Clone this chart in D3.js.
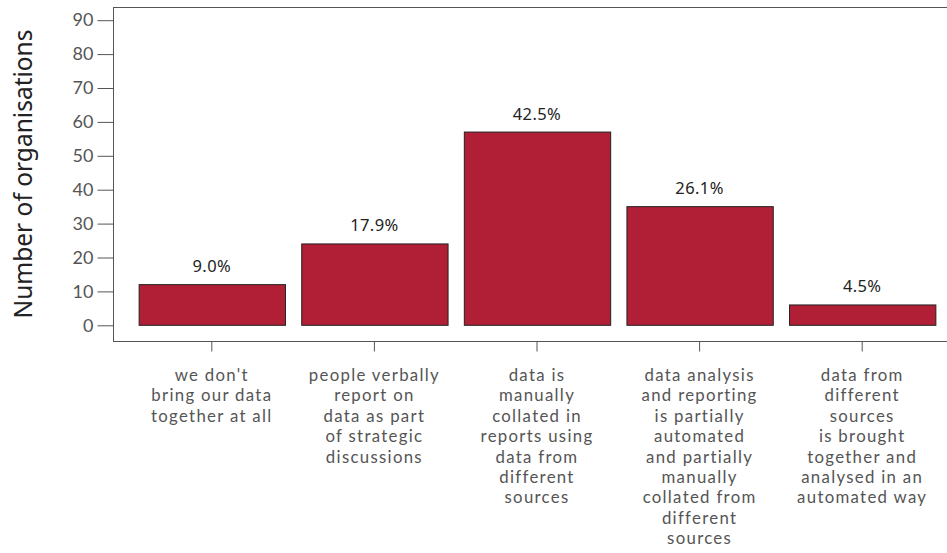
<!DOCTYPE html>
<html>
<head>
<meta charset="utf-8">
<script src="https://cdn.jsdelivr.net/npm/d3@7"></script>
<style>
  html, body { margin: 0; padding: 0; background: #fff; }
  svg { display: block; }
  text { font-family: "Noto Sans", "Lato", sans-serif; }
</style>
</head>
<body>
<svg id="chart" width="947" height="553"></svg>
<script>
const categories = [
  ["we don't", "bring our data", "together at all"],
  ["people verbally", "report on", "data as part", "of strategic", "discussions"],
  ["data is", "manually", "collated in", "reports using", "data from", "different", "sources"],
  ["data analysis", "and reporting", "is partially", "automated", "and partially", "manually", "collated from", "different", "sources"],
  ["data from", "different", "sources", "is brought", "together and", "analysed in an", "automated way"]
];
const values = [12, 24, 57, 35, 6];
const percentLabels = ["9.0%", "17.9%", "42.5%", "26.1%", "4.5%"];
const yTicks = [0, 10, 20, 30, 40, 50, 60, 70, 80, 90];
const yTitle = "Number of organisations";

const svg = d3.select("#chart");
const frame = {left: 113, top: 7, right: 949, bottom: 341};

const x = d3.scaleBand()
  .domain(d3.range(values.length))
  .range([130.5, 943.5])
  .paddingInner(0.1)
  .paddingOuter(0.05);

const y = d3.scaleLinear().domain([0, 90]).range([325.3, 20.2]);

// frame
svg.append("rect")
  .attr("x", frame.left + 0.5).attr("y", frame.top + 0.5)
  .attr("width", frame.right - frame.left).attr("height", frame.bottom - frame.top)
  .attr("fill", "none").attr("stroke", "#555").attr("stroke-width", 1);

// y axis
const yAxis = svg.append("g")
  .attr("transform", `translate(${frame.left + 0.5},0)`)
  .call(d3.axisLeft(y).tickValues(yTicks).tickSize(16).tickPadding(4).tickFormat(d3.format("d")));
yAxis.select(".domain").remove();
yAxis.selectAll(".tick line").attr("stroke", "#555");
yAxis.selectAll(".tick text")
  .attr("fill", "#555").style("font-size", "18px")
  .style("font-family", "Lato, 'Noto Sans', sans-serif");

// x axis
const xAxis = svg.append("g")
  .attr("transform", `translate(0,${frame.bottom + 0.5})`)
  .call(d3.axisBottom(x).tickSize(10).tickFormat(""));
xAxis.select(".domain").remove();
xAxis.selectAll(".tick line").attr("stroke", "#555");

// category labels
const catG = svg.append("g");
categories.forEach((lines, i) => {
  const t = catG.append("text")
    .attr("x", x(i) + x.bandwidth() / 2)
    .attr("y", 381)
    .attr("text-anchor", "middle")
    .attr("fill", "#555")
    .style("font-family", "Lato, 'Noto Sans', sans-serif")
    .style("font-size", "16.8px")
    .style("letter-spacing", "1.3px");
  lines.forEach((ln, j) => {
    t.append("tspan")
      .attr("x", x(i) + x.bandwidth() / 2)
      .attr("dy", j === 0 ? 0 : 20.4)
      .text(ln);
  });
});

// bars
svg.append("g").selectAll("rect")
  .data(values)
  .join("rect")
  .attr("x", (d, i) => x(i) + 0.5)
  .attr("y", d => y(d))
  .attr("width", x.bandwidth())
  .attr("height", d => y(0) - y(d))
  .attr("fill", "#b01f35")
  .attr("stroke", "#222")
  .attr("stroke-width", 1);

// percent labels
svg.append("g").selectAll("text")
  .data(values)
  .join("text")
  .attr("x", (d, i) => x(i) + x.bandwidth() / 2)
  .attr("y", d => y(d) - 12.5)
  .attr("text-anchor", "middle")
  .attr("fill", "#222")
  .style("font-size", "16.5px")
  .style("letter-spacing", "0.4px")
  .text((d, i) => percentLabels[i]);

// y title
svg.append("text")
  .attr("transform", `translate(32,${(frame.top + frame.bottom) / 2}) rotate(-90)`)
  .attr("text-anchor", "middle")
  .attr("fill", "#222")
  .style("font-size", "24.5px")
  .text(yTitle);
</script>
</body>
</html>
